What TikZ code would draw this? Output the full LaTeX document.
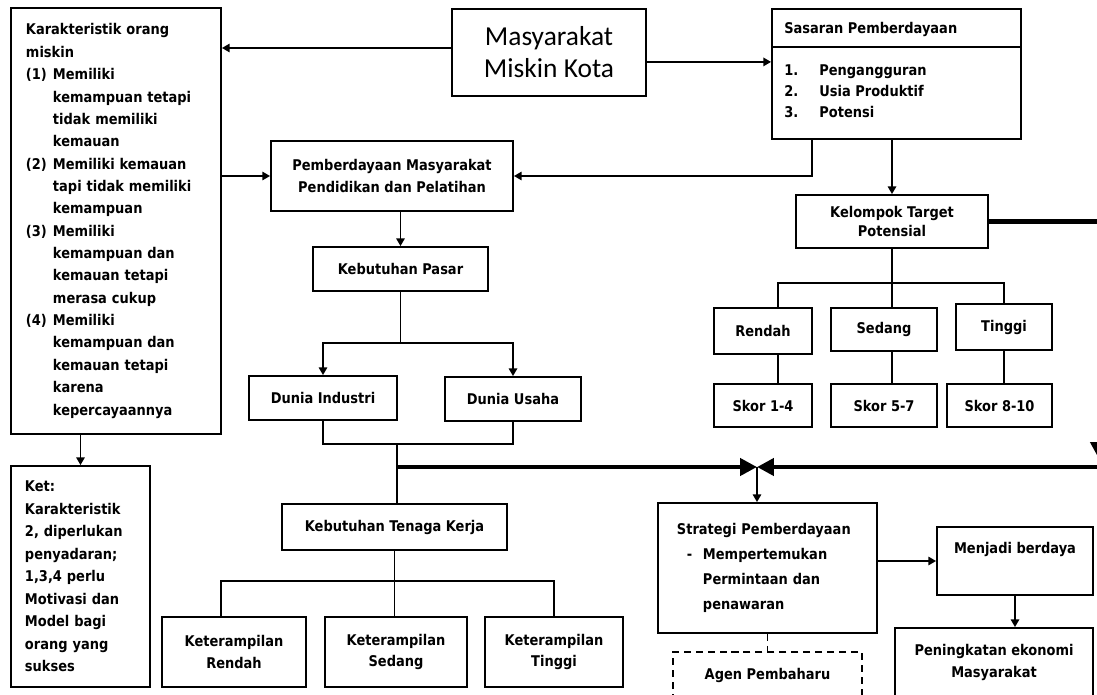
\documentclass[tikz,border=0pt]{standalone}
\usepackage{fontspec}
\setmainfont{DejaVu Sans}[FakeStretch=0.88]
\newfontfamily\titlefont{Carlito}
\usetikzlibrary{arrows.meta}

\begin{document}
\begin{tikzpicture}[x=0.025cm, y=-0.025cm,
                box/.style={draw, line width=1.3pt, inner sep=0pt, align=center,
                  font=\bfseries\fontsize{10.5}{15.6}\selectfont},
                link/.style={line width=1.25pt},
                arr/.style={line width=1.25pt, -{Triangle[length=5.5pt,width=6pt]}},
                bigarr/.style={line width=3.5pt, -{Triangle[length=12pt,width=12pt]}}]
                \tikzset{plain/.style={inner sep=0pt, align=left, font=\bfseries\fontsize{10.5}{14.9}\selectfont}}
                \useasboundingbox (0,0) rectangle (1097,695);
                % left column
                \node[box, align=left, text width=4.5cm, inner xsep=0.375cm, minimum width=5.25cm,
                  minimum height=10.65cm, font=\bfseries\fontsize{10.5}{15.9}\selectfont] (kar) at (116,221)
                  {Karakteristik orang\\ miskin\\
                   \makebox[0.675cm][l]{(1)}Memiliki\\ \hspace*{0.675cm}kemampuan tetapi\\
                   \hspace*{0.675cm}tidak memiliki\\ \hspace*{0.675cm}kemauan\\
                   \makebox[0.675cm][l]{(2)}Memiliki kemauan\\ \hspace*{0.675cm}tapi tidak memiliki\\
                   \hspace*{0.675cm}kemampuan\\
                   \makebox[0.675cm][l]{(3)}Memiliki\\ \hspace*{0.675cm}kemampuan dan\\
                   \hspace*{0.675cm}kemauan tetapi\\ \hspace*{0.675cm}merasa cukup\\
                   \makebox[0.675cm][l]{(4)}Memiliki\\ \hspace*{0.675cm}kemampuan dan\\
                   \hspace*{0.675cm}kemauan tetapi\\ \hspace*{0.675cm}karena\\
                   \hspace*{0.675cm}kepercayaannya};
                \node[box, align=left, text width=2.775cm, inner xsep=0.35cm, minimum width=3.475cm,
                  minimum height=5.525cm, font=\bfseries\fontsize{10.5}{16}\selectfont] (ket) at (80.5,576.5)
                  {Ket:\\ Karakteristik\\ 2, diperlukan\\ penyadaran;\\ 1,3,4 perlu\\ Motivasi dan\\
                   Model bagi\\ orang yang\\ sukses};
                % top row
                \node[box, font=\titlefont\fontsize{19.5}{22.7}\selectfont, minimum width=4.85cm,
                  minimum height=2.175cm] (masy) at (549,52.5) {Masyarakat\\Miskin Kota};
                \node[box, minimum width=6.225cm, minimum height=3.25cm] (sas) at (896.5,74) {};
                \draw[line width=1.1pt] ([yshift=-0.975cm]sas.north west) -- ([yshift=-0.975cm]sas.north east);
                \node[plain, anchor=west] (sastitle) at ([xshift=0.325cm, yshift=-0.525cm]sas.north west)
                  {Sasaran Pemberdayaan};
                \node[plain, anchor=west] (saslist) at ([xshift=0.325cm, yshift=-0.425cm]sas.west)
                  {\makebox[0.875cm][l]{1.}Pengangguran\\ \makebox[0.875cm][l]{2.}Usia Produktif\\
                   \makebox[0.875cm][l]{3.}Potensi};
                % middle column
                \node[box, minimum width=6.05cm, minimum height=1.75cm] (pem) at (392,176)
                  {Pemberdayaan Masyarakat\\Pendidikan dan Pelatihan};
                \node[box, minimum width=4.375cm, minimum height=1.1cm] (pasar) at (400.5,269) {Kebutuhan Pasar};
                \node[box, minimum width=3.7cm, minimum height=1.1cm] (ind) at (323,398) {Dunia Industri};
                \node[box, minimum width=3.4cm, minimum height=1.1cm] (usa) at (513,399) {Dunia Usaha};
                \node[box, minimum width=5.625cm, minimum height=1.15cm] (tk) at (394.5,527) {Kebutuhan Tenaga Kerja};
                \node[box, minimum width=3.6cm, minimum height=1.75cm] (kr) at (234,652) {Keterampilan\\Rendah};
                \node[box, minimum width=3.55cm, minimum height=1.75cm] (ks) at (396,652) {Keterampilan\\Sedang};
                \node[box, minimum width=3.45cm, minimum height=1.75cm] (kt) at (554,652) {Keterampilan\\Tinggi};
                % right column
                \node[box, minimum width=4.8cm, minimum height=1.325cm, font=\bfseries\fontsize{10.5}{14.2}\selectfont]
                  (kel) at (892,221.5) {Kelompok Target\\Potensial};
                \node[box, minimum width=2.45cm, minimum height=1.15cm] (ren) at (763,331) {Rendah};
                \node[box, minimum width=2.65cm, minimum height=1.075cm] (sed) at (884,329.5) {Sedang};
                \node[box, minimum width=2.4cm, minimum height=1.15cm] (tin) at (1004,327) {Tinggi};
                \node[box, minimum width=2.45cm, minimum height=1.075cm] (s14) at (763,405.5) {Skor 1-4};
                \node[box, minimum width=2.65cm, minimum height=1.075cm] (s57) at (884,405.5) {Skor 5-7};
                \node[box, minimum width=2.625cm, minimum height=1.075cm] (s810) at (999.5,405.5) {Skor 8-10};
                \node[box, align=left, text width=4.525cm, inner xsep=0.475cm, minimum width=5.475cm,
                  minimum height=3.25cm, font=\bfseries\fontsize{10.5}{17.7}\selectfont] (str) at (767.5,568)
                  {Strategi Pemberdayaan\\ \hspace*{0.25cm}\makebox[0.4cm][l]{-}Mempertemukan\\
                   \hspace*{0.65cm}Permintaan dan\\ \hspace*{0.65cm}penawaran};
                \node[box, minimum width=3.9cm, minimum height=1.7cm, text depth=18pt] (men) at (1015,561)
                  {Menjadi berdaya};
                \node[box, minimum width=4.95cm, minimum height=1.725cm, font=\bfseries\fontsize{10.5}{16.3}\selectfont]
                  (pen) at (994,662.5) {Peningkatan ekonomi\\Masyarakat};
                \node[box, dash pattern=on 5pt off 3.5pt, minimum width=4.725cm, minimum height=1.15cm]
                  (agen) at (767.5,675) {Agen Pembaharu};
                \coordinate (jpasar) at (400.5,343);
                \coordinate (jdunia) at (397,444);
                \coordinate (jtk) at (394.5,581);
                \coordinate (jkel) at (892,283);
                \coordinate (meet) at (757,467);
                \coordinate (rdown) at (1099,459);
                \coordinate (rbot) at (1099,467);
                % connectors
                \draw[arr] ([yshift=3.2pt]masy.west) -- ([yshift=3.2pt]masy.west -| kar.east);
                \draw[arr] ([yshift=-6.7pt]masy.east) -- ([yshift=-6.7pt]masy.east -| sas.west);
                \draw[arr] (kar.east |- pem.west) -- (pem.west);
                \draw[arr] ([xshift=-2.11cm]sas.south) |- (pem.east);
                \draw[arr] (kel.north |- sas.south) -- (kel.north);
                \draw[arr] (ket.north |- kar.south) -- (ket.north);
                \draw[arr] (pasar.north |- pem.south) -- (pasar.north);
                \draw[link] (pasar.south) -- (jpasar);
                \draw[arr] (jpasar) -| (ind.north);
                \draw[arr] (jpasar) -| (usa.north);
                \draw[link] (ind.south) |- (jdunia);
                \draw[link] (usa.south) |- (jdunia);
                \draw[link] (jdunia) -- (jdunia |- tk.north);
                \draw[link] (tk.south) -- (jtk);
                \draw[link] (jtk) -| ([xshift=-9.2pt]kr.north);
                \draw[link] (jtk) -- (jtk |- ks.north);
                \draw[link] (jtk) -| (kt.north);
                \draw[link] (kel.south) -- (jkel);
                \draw[link] (jkel) -| ([xshift=10.6pt]ren.north);
                \draw[link] (jkel) -- (jkel |- sed.north);
                \draw[link] (jkel) -| (tin.north);
                \draw[link] ([xshift=10.6pt]ren.south) -- ([xshift=10.6pt]s14.north);
                \draw[link] (sed.south -| jkel) -- (s57.north -| jkel);
                \draw[link] (tin.south) -- (tin.south |- s810.north);
                \draw[bigarr] (jdunia |- meet) -- (meet);
                \draw[bigarr] (kel.east) -| (rdown);
                \draw[bigarr] (rbot) -- (meet);
                \draw[arr] (meet) -- (meet |- str.north);
                \draw[arr] (str.east |- men.west) -- (men.west);
                \draw[arr] (men.south) -- (men.south |- pen.north);
                \draw[link, dash pattern=on 5pt off 3.5pt] (str.south -| agen.north) -- (agen.north);
            \end{tikzpicture}
\end{document}
